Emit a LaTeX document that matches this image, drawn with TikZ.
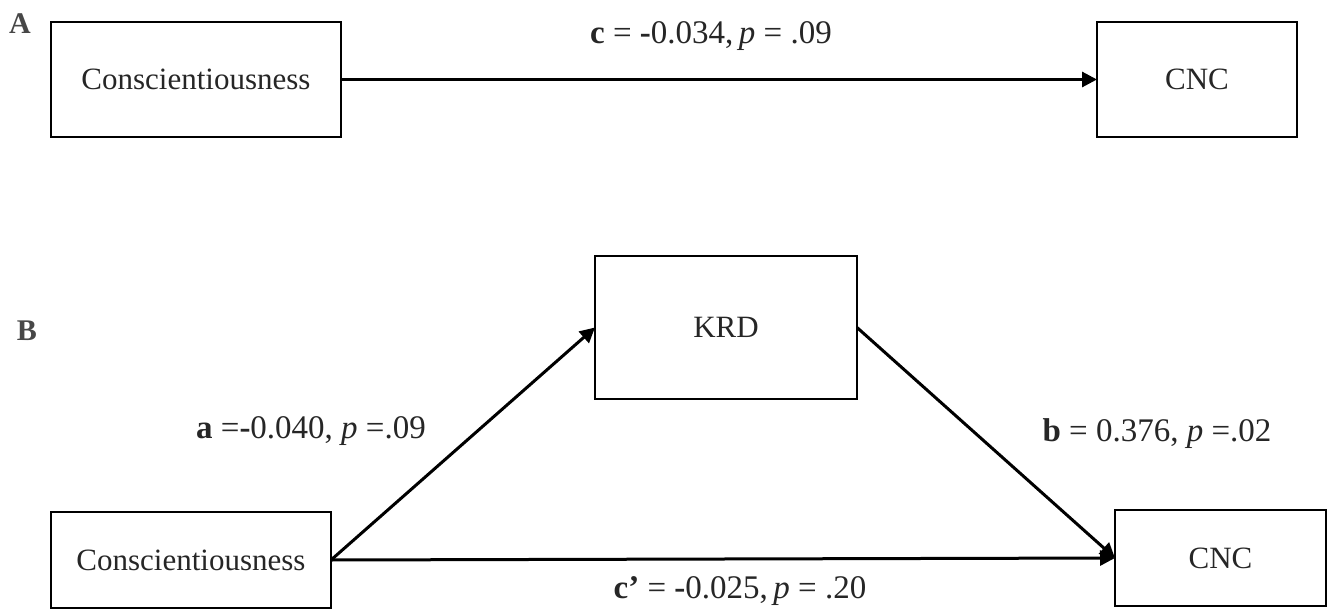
\documentclass[tikz,border=0pt]{standalone}
\usepackage{fontspec}
\setmainfont{Liberation Serif}
\usetikzlibrary{arrows.meta}
\begin{document}
\begin{tikzpicture}[x=1pt,y=-1pt,
  box/.style={draw=black,line width=2.4pt,rectangle,inner sep=0pt,outer sep=0pt,
    font=\fontsize{31}{36}\selectfont,text=black!85},
  lbl/.style={font=\fontsize{33}{38}\selectfont,text=black!85,inner sep=0pt},
  panel/.style={font=\fontsize{30}{36}\selectfont\bfseries,text=black!72,inner sep=0pt},
  arr/.style={line width=3pt,-{Triangle[length=15pt,width=15pt]}}]
\useasboundingbox (0,0) rectangle (1335,612);
% Panel A
\node[panel] (pA) at (20,24) {A};
\node[box,minimum width=290pt,minimum height=115pt] (consA) at (196,79.5) {Conscientiousness};
\node[box,minimum width=200pt,minimum height=115pt] (cncA) at (1197,79.5) {CNC};
\draw[arr] (consA.east) -- (cncA.west);
\node[lbl] (lc) at (711,36) {\textbf{c} = \textbf{-}0.034,\,\textit{p} = .09};
% Panel B
\node[panel] (pB) at (27,331) {B};
\node[box,minimum width=262pt,minimum height=143pt] (krd) at (726,327.5) {KRD};
\node[box,minimum width=280pt,minimum height=96pt] (consB) at (191,560) {Conscientiousness};
\node[box,minimum width=211pt,minimum height=96pt] (cncB) at (1220.5,558) {CNC};
\draw[arr] (consB.east) -- (krd.west);
\draw[arr] (krd.east) -- (cncB.west);
\draw[arr] (consB.east) -- (cncB.west);
\node[lbl] (la) at (311,431) {\textbf{a} =\textbf{-}0.040, \textit{p} =.09};
\node[lbl] (lb) at (1157,434) {\textbf{b} = 0.376, \textit{p} =.02};
\node[lbl] (lcp) at (740,591) {\textbf{c’} = \textbf{-}0.025,\,\textit{p} = .20};
\end{tikzpicture}
\end{document}
